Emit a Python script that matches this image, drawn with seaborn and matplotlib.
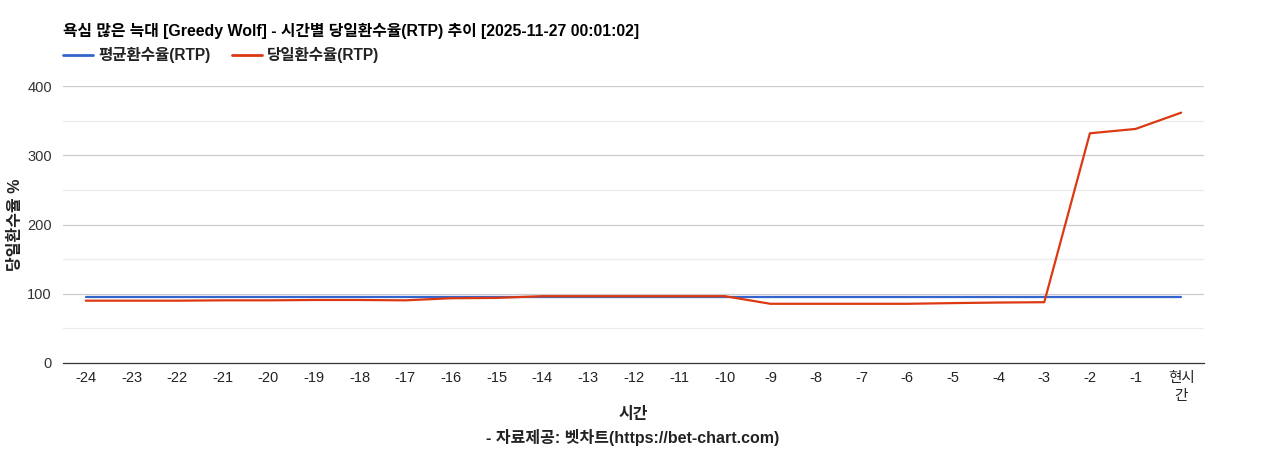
import numpy as np
import pandas as pd
import matplotlib
matplotlib.use('Agg')
import matplotlib.pyplot as plt
import seaborn as sns

sns.set_style('white')
plt.rcParams['font.family'] = ['Liberation Sans', 'Noto Sans CJK KR', 'DejaVu Sans']

# Data
hours = ['-24', '-23', '-22', '-21', '-20', '-19', '-18', '-17', '-16', '-15',
         '-14', '-13', '-12', '-11', '-10', '-9', '-8', '-7', '-6', '-5',
         '-4', '-3', '-2', '-1', '현시\n간']
avg_rtp = [96.0] * 25
today_rtp = [90.0, 90.0, 90.0, 90.5, 90.5, 91.0, 91.0, 90.5, 93.5, 94.0,
             96.5, 96.5, 96.5, 96.5, 96.5, 85.5, 85.5, 85.5, 85.5, 86.5,
             87.3, 87.8, 331.7, 338.0, 361.5]
series_names = ['평균환수율(RTP)', '당일환수율(RTP)']
colors = ['#3366cc', '#dc3912']

title = '욕심 많은 늑대 [Greedy Wolf] - 시간별 당일환수율(RTP) 추이 [2025-11-27 00:01:02]'

df = pd.concat([
    pd.DataFrame({'pos': range(len(hours)), 'rtp': avg_rtp, 'series': series_names[0]}),
    pd.DataFrame({'pos': range(len(hours)), 'rtp': today_rtp, 'series': series_names[1]}),
])

fig = plt.figure(figsize=(12.68, 4.5), dpi=100)
ax = fig.add_axes([63 / 1268, 1 - 363 / 450, (1204 - 63) / 1268, (363 - 86) / 450])

# gridlines
for v in range(50, 400, 100):
    ax.axhline(v, color='#ebebeb', lw=0.9, zorder=0)
for v in range(100, 401, 100):
    ax.axhline(v, color='#cccccc', lw=0.9, zorder=0)

sns.lineplot(data=df, x='pos', y='rtp', hue='series', palette=colors,
             linewidth=1.6, ax=ax, legend=False, zorder=3)

ax.set_xlim(-0.5, len(hours) - 0.5)
ax.set_ylim(0, 400)
ax.set_xticks(range(len(hours)))
ax.set_xticklabels(hours, fontsize=10.5, color='#222222', linespacing=1.3)
ax.set_yticks(range(0, 401, 100))
ax.tick_params(axis='y', labelsize=10.5, colors='#333333', length=0, pad=8)
ax.tick_params(axis='x', length=0, pad=6, colors='#222222')
for s in ['top', 'right', 'left']:
    ax.spines[s].set_visible(False)
ax.spines['bottom'].set_color('#333333')
ax.spines['bottom'].set_linewidth(0.9)

ax.set_xlabel('')
ax.set_ylabel('')
fig.text(15 / 1268, 1 - 225 / 450, '당일환수율 %', rotation=90, ha='center', va='center',
         fontsize=11.5, fontweight='bold', color='#222222')
fig.text(633 / 1268, 1 - 414 / 450, '시간', ha='center', va='center',
         fontsize=11.5, fontweight='bold', color='#222222')
fig.text(633 / 1268, 1 - 437 / 450, '- 자료제공: 벳차트(https://bet-chart.com)', ha='center',
         va='center', fontsize=11.5, fontweight='bold', color='#222222')

fig.text(63 / 1268, 1 - 31 / 450, title, ha='left', va='center',
         fontsize=11.4, fontweight='bold', color='#000000')

# legend drawn manually at the top left
lx = [63, 232]
for i, name in enumerate(series_names):
    x0 = lx[i] / 1268
    y0 = 1 - 55 / 450
    fig.add_artist(plt.Line2D([x0, x0 + 30 / 1268], [y0, y0], color=colors[i], lw=2))
    fig.text(x0 + 35 / 1268, y0, name, ha='left', va='center', fontsize=11.2,
             fontweight='bold', color='#222222')

fig.savefig('out.png', dpi=100)
